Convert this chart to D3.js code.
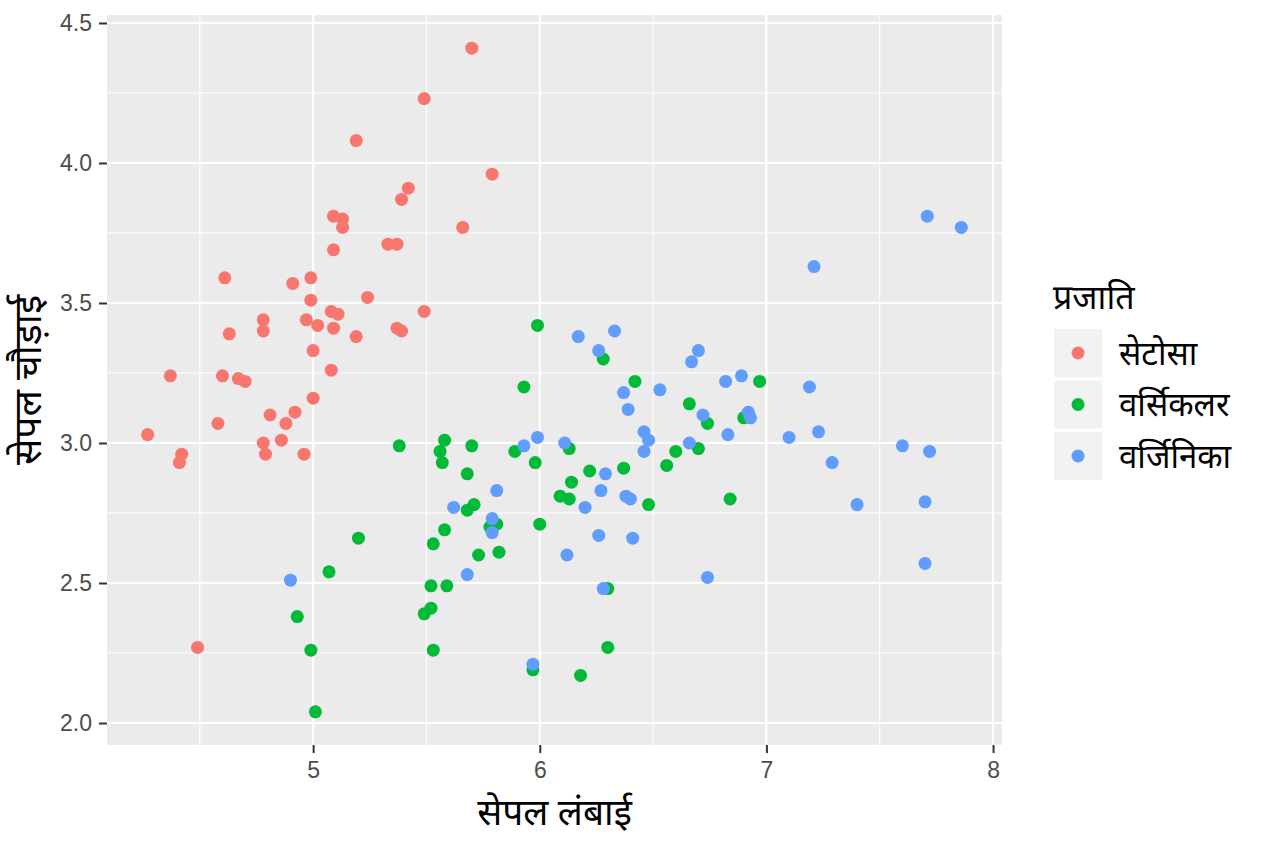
<!DOCTYPE html>
<html>
<head>
    <meta charset="utf-8">
    <title>सेपल चौड़ाई बनाम सेपल लंबाई</title>
    <script src="https://d3js.org/d3.v7.min.js"></script>
    <style>
        body { margin: 0; background: #ffffff; }
        text { font-family: "Noto Sans", "Liberation Sans", sans-serif; }
    </style>
</head>
<body>
    <div id="chart"></div>

    <script>
        // Categories and legend labels
        var species = ["setosa", "versicolor", "virginica"];
        var speciesLabels = ["सेटोसा", "वर्सिकलर", "वर्जिनिका"];
        var colors = ["#F8766D", "#00BA38", "#619CFF"];

        // Tick labels
        var xTicks = [5, 6, 7, 8];
        var yTicks = [2.0, 2.5, 3.0, 3.5, 4.0, 4.5];

        // Sepal length / width (jittered points)
        var setosaX = [5.70, 5.49, 5.19, 5.79, 5.42, 5.39, 5.09, 5.13, 5.13, 5.66,
                       5.33, 5.37, 5.09, 4.61, 4.99, 4.91, 5.24, 4.99, 5.11, 5.08,
                       5.49, 4.97, 5.02, 4.78, 5.09, 5.37, 5.39, 4.63, 4.78, 5.19,
                       5.00, 5.08, 4.37, 4.60, 4.67, 4.70, 5.00, 4.81, 4.92, 4.58,
                       4.88, 4.27, 4.86, 4.78, 4.79, 4.42, 4.41, 4.96, 4.49];
        var setosaY = [4.41, 4.23, 4.08, 3.96, 3.91, 3.87, 3.81, 3.80, 3.77, 3.77,
                       3.71, 3.71, 3.69, 3.59, 3.59, 3.57, 3.52, 3.51, 3.46, 3.47,
                       3.47, 3.44, 3.42, 3.44, 3.41, 3.41, 3.40, 3.39, 3.40, 3.38,
                       3.33, 3.26, 3.24, 3.24, 3.23, 3.22, 3.16, 3.10, 3.11, 3.07,
                       3.07, 3.03, 3.01, 3.00, 2.96, 2.96, 2.93, 2.96, 2.27];

        var versicolorX = [5.99, 6.28, 6.42, 5.93, 6.66, 6.74, 6.90, 6.97, 5.38, 5.58,
                           5.56, 5.57, 5.70, 5.89, 5.98, 6.13, 5.68, 6.14, 6.13, 6.09,
                           6.22, 6.37, 6.60, 6.70, 6.56, 6.48, 6.84, 5.71, 5.68, 5.81,
                           5.78, 5.58, 6.00, 5.53, 5.20, 5.73, 5.82, 5.07, 5.52, 5.59,
                           5.52, 5.49, 4.93, 6.30, 4.99, 5.53, 5.97, 6.30, 6.18, 5.01];
        var versicolorY = [3.42, 3.30, 3.22, 3.20, 3.14, 3.07, 3.09, 3.22, 2.99, 3.01,
                           2.97, 2.93, 2.99, 2.97, 2.93, 2.98, 2.89, 2.86, 2.80, 2.81,
                           2.90, 2.91, 2.97, 2.98, 2.92, 2.78, 2.80, 2.78, 2.76, 2.71,
                           2.70, 2.69, 2.71, 2.64, 2.66, 2.60, 2.61, 2.54, 2.49, 2.49,
                           2.41, 2.39, 2.38, 2.48, 2.26, 2.26, 2.19, 2.27, 2.17, 2.04];

        var virginicaX = [6.17, 6.33, 6.26, 6.67, 6.70, 6.37, 6.39, 6.53, 6.82, 6.89,
                          7.19, 7.21, 7.71, 7.86, 6.46, 6.48, 6.46, 6.66, 6.72, 6.92,
                          6.93, 6.83, 7.10, 7.23, 7.29, 7.60, 7.72, 7.40, 7.70, 7.70,
                          6.74, 5.93, 5.99, 6.11, 6.29, 6.27, 6.38, 6.40, 6.20, 5.81,
                          5.62, 5.79, 5.79, 5.68, 6.12, 6.26, 6.41, 6.28, 5.97, 4.90];
        var virginicaY = [3.38, 3.40, 3.33, 3.29, 3.33, 3.18, 3.12, 3.19, 3.22, 3.24,
                          3.20, 3.63, 3.81, 3.77, 3.04, 3.01, 2.97, 3.00, 3.10, 3.11,
                          3.09, 3.03, 3.02, 3.04, 2.93, 2.99, 2.97, 2.78, 2.79, 2.57,
                          2.52, 2.99, 3.02, 3.00, 2.89, 2.83, 2.81, 2.80, 2.77, 2.83,
                          2.77, 2.73, 2.68, 2.53, 2.60, 2.67, 2.66, 2.48, 2.21, 2.51];

        var seriesX = [setosaX, versicolorX, virginicaX];
        var seriesY = [setosaY, versicolorY, virginicaY];

        var points = [];
        species.forEach(function(s, i) {
            seriesX[i].forEach(function(v, j) {
                points.push({ species: i, x: v, y: seriesY[i][j] });
            });
        });

        var width = 1264, height = 843;
        var panel = { left: 107, right: 1002, top: 15, bottom: 745 };

        var svg = d3.select("#chart").append("svg")
            .attr("width", width)
            .attr("height", height);

        // ggplot style 5% expansion of the data range
        var xExt = d3.extent(points, function(d) { return d.x; });
        var yExt = d3.extent(points, function(d) { return d.y; });
        var xPad = (xExt[1] - xExt[0]) * 0.05, yPad = (yExt[1] - yExt[0]) * 0.05;

        var x = d3.scaleLinear()
            .domain([xExt[0] - xPad, xExt[1] + xPad])
            .range([panel.left, panel.right]);
        var y = d3.scaleLinear()
            .domain([yExt[0] - yPad, yExt[1] + yPad])
            .range([panel.bottom, panel.top]);

        // panel background
        svg.append("rect")
            .attr("x", panel.left).attr("y", panel.top)
            .attr("width", panel.right - panel.left)
            .attr("height", panel.bottom - panel.top)
            .attr("fill", "#EBEBEB");

        // minor grid
        var xMinor = xTicks.map(function(t) { return t - 0.5; });
        var yMinor = yTicks.map(function(t) { return t + 0.25; }).slice(0, -1);
        svg.append("g").selectAll("line")
            .data(xMinor)
            .enter().append("line")
            .attr("x1", function(d) { return x(d); }).attr("x2", function(d) { return x(d); })
            .attr("y1", panel.top).attr("y2", panel.bottom)
            .attr("stroke", "#ffffff").attr("stroke-width", 1.1);
        svg.append("g").selectAll("line")
            .data(yMinor)
            .enter().append("line")
            .attr("y1", function(d) { return y(d); }).attr("y2", function(d) { return y(d); })
            .attr("x1", panel.left).attr("x2", panel.right)
            .attr("stroke", "#ffffff").attr("stroke-width", 1.1);

        // major grid
        svg.append("g").selectAll("line")
            .data(xTicks)
            .enter().append("line")
            .attr("x1", function(d) { return x(d); }).attr("x2", function(d) { return x(d); })
            .attr("y1", panel.top).attr("y2", panel.bottom)
            .attr("stroke", "#ffffff").attr("stroke-width", 2.2);
        svg.append("g").selectAll("line")
            .data(yTicks)
            .enter().append("line")
            .attr("y1", function(d) { return y(d); }).attr("y2", function(d) { return y(d); })
            .attr("x1", panel.left).attr("x2", panel.right)
            .attr("stroke", "#ffffff").attr("stroke-width", 2.2);

        // axes
        var xAxis = svg.append("g")
            .attr("transform", "translate(0," + panel.bottom + ")")
            .call(d3.axisBottom(x).tickValues(xTicks).tickSize(8).tickPadding(9).tickFormat(d3.format("d")));
        var yAxis = svg.append("g")
            .attr("transform", "translate(" + panel.left + ",0)")
            .call(d3.axisLeft(y).tickValues(yTicks).tickSize(8).tickPadding(7).tickFormat(d3.format(".1f")));

        [xAxis, yAxis].forEach(function(a) {
            a.select(".domain").remove();
            a.selectAll(".tick line").attr("stroke", "#333333").attr("stroke-width", 2);
            a.selectAll(".tick text")
                .attr("fill", "#4D4D4D")
                .style("font-size", "23px")
                .style("font-family", "'Liberation Sans', Arial, sans-serif");
        });

        // points
        svg.append("g").selectAll("circle")
            .data(points)
            .enter().append("circle")
            .attr("cx", function(d) { return x(d.x); })
            .attr("cy", function(d) { return y(d.y); })
            .attr("r", 6.5)
            .attr("fill", function(d) { return colors[d.species]; });

        // axis titles
        svg.append("text")
            .attr("x", (panel.left + panel.right) / 2)
            .attr("y", 825)
            .attr("text-anchor", "middle")
            .style("font-size", "37px")
            .attr("fill", "#000000")
            .text("सेपल लंबाई");

        svg.append("text")
            .attr("transform", "translate(41," + (panel.top + panel.bottom) / 2 + ") rotate(-90)")
            .attr("text-anchor", "middle")
            .style("font-size", "39px")
            .attr("fill", "#000000")
            .text("सेपल चौड़ाई");

        // legend
        var legend = svg.append("g").attr("transform", "translate(1054,329)");
        legend.append("text")
            .attr("x", -1).attr("y", -20)
            .style("font-size", "34px")
            .attr("fill", "#000000")
            .text("प्रजाति");

        var keys = legend.selectAll(".key")
            .data(species)
            .enter().append("g")
            .attr("class", "key")
            .attr("transform", function(d, i) { return "translate(0," + (i * 51.5) + ")"; });
        keys.append("rect")
            .attr("width", 48).attr("height", 48)
            .attr("fill", "#F2F2F2");
        keys.append("circle")
            .attr("cx", 24).attr("cy", 24).attr("r", 6.5)
            .attr("fill", function(d, i) { return colors[i]; });
        keys.append("text")
            .attr("x", 65).attr("y", 24)
            .attr("dy", "0.35em")
            .style("font-size", "33px")
            .attr("fill", "#000000")
            .text(function(d, i) { return speciesLabels[i]; });
    </script>
</body>
</html>
